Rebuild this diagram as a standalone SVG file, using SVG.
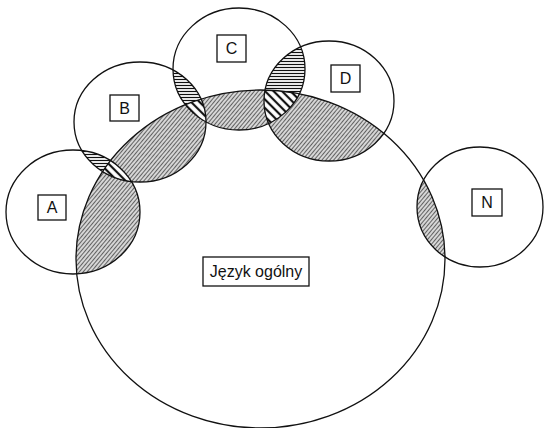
<svg xmlns="http://www.w3.org/2000/svg" width="547" height="428" viewBox="0 0 547 428">
  <style>
    .outline { fill: none; stroke: #111; stroke-width: 1.3; }
    .box { fill: #fff; stroke: #111; stroke-width: 1.3; }
    .lbl { font-family: "Liberation Sans", Arial, sans-serif; font-size: 16px; fill: #111; text-anchor: middle; }
  </style>
  <defs>
    <!-- shapes -->
    <ellipse id="shpBig" cx="260.5" cy="259" rx="184.5" ry="169"/>
    <ellipse id="shpA" cx="73" cy="212" rx="67" ry="62"/>
    <ellipse id="shpB" cx="140" cy="122" rx="66" ry="60"/>
    <ellipse id="shpC" cx="239" cy="69" rx="66" ry="61"/>
    <ellipse id="shpD" cx="329" cy="101" rx="65" ry="60"/>
    <ellipse id="shpN" cx="480" cy="207" rx="63" ry="60"/>

    <clipPath id="clipBig"><use href="#shpBig"/></clipPath>
    <clipPath id="clipA"><use href="#shpA"/></clipPath>
    <clipPath id="clipB"><use href="#shpB"/></clipPath>
    <clipPath id="clipC"><use href="#shpC"/></clipPath>
    <clipPath id="clipD"><use href="#shpD"/></clipPath>

    <!-- fine diagonal hatch on grey: overlap with the general language -->
    <pattern id="patGrey" width="3" height="3" patternUnits="userSpaceOnUse" patternTransform="rotate(-50)">
      <rect width="3" height="3" fill="#d6d6d6"/>
      <line x1="0" y1="1.5" x2="3" y2="1.5" stroke="#444" stroke-width="0.8"/>
    </pattern>
    <!-- horizontal hatch: overlap of two domains -->
    <pattern id="patHor" width="6" height="3" patternUnits="userSpaceOnUse">
      <rect width="6" height="3" fill="#fff"/>
      <line x1="0" y1="1.5" x2="6" y2="1.5" stroke="#111" stroke-width="1.2"/>
    </pattern>
    <!-- coarse back-diagonal hatch: two domains and the general language -->
    <pattern id="patBack" width="6" height="6" patternUnits="userSpaceOnUse" patternTransform="rotate(45)">
      <rect width="6" height="6" fill="#fff"/>
      <line x1="0" y1="3" x2="6" y2="3" stroke="#111" stroke-width="2.2"/>
    </pattern>
  </defs>

  <rect width="547" height="428" fill="#fff"/>

  <!-- shaded overlaps -->
  <g id="overlaps">
    <g clip-path="url(#clipBig)" fill="url(#patGrey)">
      <use href="#shpA"/>
      <use href="#shpB"/>
      <use href="#shpC"/>
      <use href="#shpD"/>
      <use href="#shpN"/>
    </g>
    <g fill="url(#patHor)">
      <g clip-path="url(#clipA)"><use href="#shpB"/></g>
      <g clip-path="url(#clipB)"><use href="#shpC"/></g>
      <g clip-path="url(#clipC)"><use href="#shpD"/></g>
    </g>
    <g fill="url(#patBack)">
      <g clip-path="url(#clipA)"><g clip-path="url(#clipB)"><use href="#shpBig"/></g></g>
      <g clip-path="url(#clipB)"><g clip-path="url(#clipC)"><use href="#shpBig"/></g></g>
      <g clip-path="url(#clipC)"><g clip-path="url(#clipD)"><use href="#shpBig"/></g></g>
    </g>
  </g>

  <g id="general">
    <use href="#shpBig" class="outline"/>
    <rect class="box" x="203" y="257" width="106" height="29"/>
    <text class="lbl" x="256" y="277">Język ogólny</text>
  </g>
  <g id="domain-a">
    <use href="#shpA" class="outline"/>
    <rect class="box" x="38" y="195" width="28" height="25"/>
    <text class="lbl" x="52" y="213">A</text>
  </g>
  <g id="domain-b">
    <use href="#shpB" class="outline"/>
    <rect class="box" x="110" y="95" width="29" height="26"/>
    <text class="lbl" x="124.5" y="114">B</text>
  </g>
  <g id="domain-c">
    <use href="#shpC" class="outline"/>
    <rect class="box" x="217" y="35" width="29" height="27"/>
    <text class="lbl" x="231.5" y="54">C</text>
  </g>
  <g id="domain-d">
    <use href="#shpD" class="outline"/>
    <rect class="box" x="331" y="65" width="29" height="27"/>
    <text class="lbl" x="345.5" y="84">D</text>
  </g>
  <g id="domain-n">
    <use href="#shpN" class="outline"/>
    <rect class="box" x="472" y="189" width="30" height="27"/>
    <text class="lbl" x="487" y="208">N</text>
  </g>
</svg>
